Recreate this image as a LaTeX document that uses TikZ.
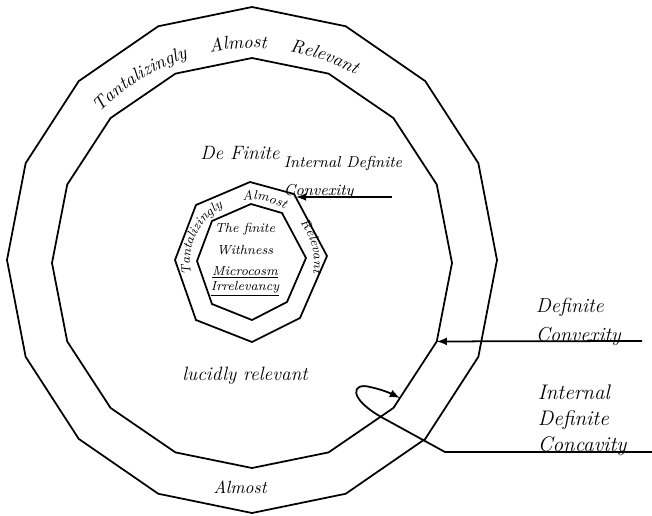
\documentclass[tikz,border=0pt]{standalone}
\usepackage{tikz}
\usetikzlibrary{arrows,positioning,decorations.text}

\tikzset{
  zone/.style={font=\itshape\fontsize{11}{13}\selectfont, inner sep=0pt},
  side/.style={font=\itshape\fontsize{11.5}{16.5}\selectfont, align=left, inner sep=0pt, anchor=south west},
  ringtext/.style={decorate, decoration={text along path, text align={fit to path stretching spaces}, text={#1}}},
}

\begin{document}
\begin{tikzpicture}[x=0.02cm, y=0.02cm, line width=1pt, >=latex]
\useasboundingbox (-252,-255) rectangle (400,260);

% big rings
\draw (90:245 and 253) \foreach \k in {1,...,15} { -- (90+22.5*\k:245 and 253) } -- cycle;
\begin{scope}[shift={(0,-3)}]
 \draw (90:200 and 205) \foreach \k in {1,...,15} { -- (90+22.5*\k:200 and 205) } -- cycle;
 \coordinate (cvxtip) at (-22.5:200 and 205);
\end{scope}

% small rings
\draw (-2,78) -- (42,66) -- (75,4) -- (48,-58) -- (0,-82) -- (-56,-60) -- (-77,0) -- (-56,55) -- cycle;
\draw (-1,56) -- (30,47) -- (54,2) -- (35,-42) -- (0,-60) -- (-40,-44) -- (-55,-1) -- (-40,39) -- cycle;

\path[ringtext={|\itshape\fontsize{10.5}{12}\selectfont|Tantalizingly Almost Relevant}]
  (136:212) arc[start angle=136, end angle=61, radius=212];
\path[ringtext={|\itshape\fontsize{7.5}{9}\selectfont|Tantalizingly Almost Relevant}]
  ([shift={(0,-2)}]192:62) arc[start angle=192, end angle=-10, radius=62];

\node[zone] (definite) at (-12,107) {De Finite};
\node[zone] (lucid) at (-7,-116) {lucidly relevant};
\node[zone, font=\itshape\fontsize{10}{12}\selectfont] (almost) at (-12,-227) {Almost};
\node[font=\itshape\fontsize{7.5}{12}\selectfont, align=center, inner sep=0pt] (core) at (-7,0)
  {The finite\\Withness\\\underline{Microcosm}\\[-3.5pt]\underline{Irrelevancy}};

% labels with arrows
\node[side, font=\itshape\fontsize{9}{16}\selectfont] (idc) at (31,60) {Internal Definite\\Convexity};
\coordinate (idc-end) at (140,63);
\coordinate (idc-tip) at (44,63);
\draw[->] (idc-end) -- (idc-tip);

\node[side] (dcv) at (283,-86) {Definite\\Convexity};
\coordinate (dcv-end) at (390,-81);
\draw[->] (dcv-end) -- (cvxtip);

\node[side, font=\itshape\fontsize{12}{15}\selectfont] (idv) at (285,-197) {Internal\\Definite\\Concavity};
\coordinate (idv-end) at (400,-192);
\coordinate (idv-knee) at (193,-192);
\coordinate (cavtip) at (148,-138);
\draw[->] (idv-end) -- (idv-knee) -- (131,-158) .. controls (95,-138) and (100,-122) .. (118,-127)
  .. controls (128,-129) and (138,-133) .. (cavtip);
\end{tikzpicture}
\end{document}
